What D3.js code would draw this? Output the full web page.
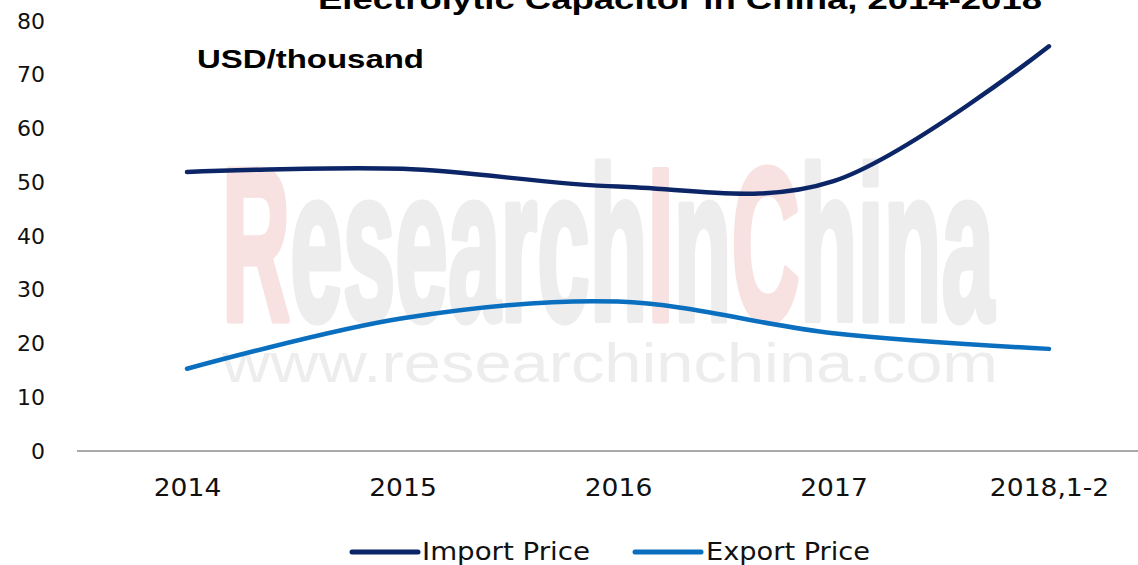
<!DOCTYPE html>
<html>
<head>
<meta charset="utf-8">
<script src="https://cdn.jsdelivr.net/npm/d3@7"></script>
<style>
  html, body { margin: 0; padding: 0; background: #fff; }
  svg { display: block; }
</style>
</head>
<body>
<svg id="chart" width="1138" height="565"></svg>
<script>
const categories = ["2014", "2015", "2016", "2017", "2018,1-2"];
const importPrice = [51.9, 52.5, 49.2, 50.2, 75.3];
const exportPrice = [15.3, 24.7, 27.8, 21.9, 19.0];
const yTicks = [0, 10, 20, 30, 40, 50, 60, 70, 80];
const seriesNames = ["Import Price", "Export Price"];
const seriesColors = ["#0b2566", "#0a6fbf"];

const svg = d3.select("#chart");
const W = 1138, H = 565;

const x = d3.scalePoint().domain(categories).range([187, 1049]);
const y = d3.scaleLinear().domain([0, 80]).range([451, 21]);

// Watermark
const wm = svg.append("g");
const big = wm.append("text")
  .attr("x", 222).attr("y", 320)
  .attr("font-family", "Liberation Sans, Arial, sans-serif")
  .attr("font-weight", "bold")
  .attr("font-size", 218)
  .attr("stroke-width", 7)
  .attr("stroke-linejoin", "round")
  .attr("textLength", 772)
  .attr("lengthAdjust", "spacingAndGlyphs");
[["R", "#f8e1e1"], ["esearch", "#ededee"], ["I", "#f8e1e1"], ["n", "#ededee"], ["C", "#f8e1e1"], ["hina", "#ededee"]]
  .forEach(([t, c]) => big.append("tspan").attr("fill", c).attr("stroke", c).text(t));
wm.append("text")
  .attr("x", 222).attr("y", 382)
  .attr("font-family", "Liberation Sans, Arial, sans-serif")
  .attr("font-size", 56)
  .attr("fill", "#ededee")
  .attr("textLength", 776)
  .attr("lengthAdjust", "spacingAndGlyphs")
  .text("www.researchinchina.com");

// Title (partially cut off)
svg.append("text")
  .attr("x", 318).attr("y", 9)
  .attr("font-family", "Liberation Sans, Arial, sans-serif")
  .attr("font-weight", "bold")
  .attr("font-size", 28)
  .attr("fill", "#000")
  .attr("textLength", 724)
  .attr("lengthAdjust", "spacingAndGlyphs")
  .text("Electrolytic Capacitor in China, 2014-2018");

// Unit label
svg.append("text")
  .attr("x", 197).attr("y", 68)
  .attr("font-family", "Liberation Sans, Arial, sans-serif")
  .attr("font-weight", "bold")
  .attr("font-size", 26)
  .attr("fill", "#000")
  .attr("textLength", 227)
  .attr("lengthAdjust", "spacingAndGlyphs")
  .text("USD/thousand");

// Y axis (labels only)
const yAxis = d3.axisLeft(y).tickValues(yTicks).tickSize(0).tickPadding(0);
const gy = svg.append("g").attr("transform", "translate(45,0)").call(yAxis);
gy.select(".domain").remove();
gy.selectAll("text")
  .attr("font-family", "DejaVu Sans, Verdana, sans-serif")
  .attr("font-size", 22)
  .attr("fill", "#111");

// X axis
svg.append("line")
  .attr("x1", 77).attr("x2", W)
  .attr("y1", y(0)).attr("y2", y(0))
  .attr("stroke", "#8c8c8c").attr("stroke-width", 1.5);
const xAxis = d3.axisBottom(x).tickSize(0).tickPadding(0);
const gx = svg.append("g").attr("transform", "translate(0,496)").call(xAxis);
gx.select(".domain").remove();
gx.selectAll("text")
  .attr("dy", 0)
  .attr("font-family", "DejaVu Sans Condensed, DejaVu Sans, sans-serif")
  .attr("font-size", 25)
  .attr("fill", "#111")
  .each(function () {
    const w = this.getComputedTextLength();
    d3.select(this).attr("textLength", w * 1.18).attr("lengthAdjust", "spacingAndGlyphs");
  });

// Lines
const line = d3.line()
  .x((d, i) => x(categories[i]))
  .y(d => y(d))
  .curve(d3.curveCatmullRom.alpha(0));
[importPrice, exportPrice].forEach((s, i) => {
  svg.append("path")
    .attr("d", line(s))
    .attr("fill", "none")
    .attr("stroke", seriesColors[i])
    .attr("stroke-width", 4.5)
    .attr("stroke-linecap", "round");
});

// Legend
const legendPos = [{lx: 352, tx: 422, tw: 168}, {lx: 635, tx: 706, tw: 164}];
seriesNames.forEach((n, i) => {
  const g = svg.append("g");
  g.append("line")
    .attr("x1", legendPos[i].lx).attr("x2", legendPos[i].lx + 66)
    .attr("y1", 552).attr("y2", 552)
    .attr("stroke", seriesColors[i]).attr("stroke-width", 5)
    .attr("stroke-linecap", "round");
  g.append("text")
    .attr("x", legendPos[i].tx).attr("y", 560)
    .attr("font-family", "DejaVu Sans Condensed, DejaVu Sans, sans-serif")
    .attr("font-size", 24)
    .attr("fill", "#111")
    .attr("textLength", legendPos[i].tw)
    .attr("lengthAdjust", "spacingAndGlyphs")
    .text(n);
});
</script>
</body>
</html>
